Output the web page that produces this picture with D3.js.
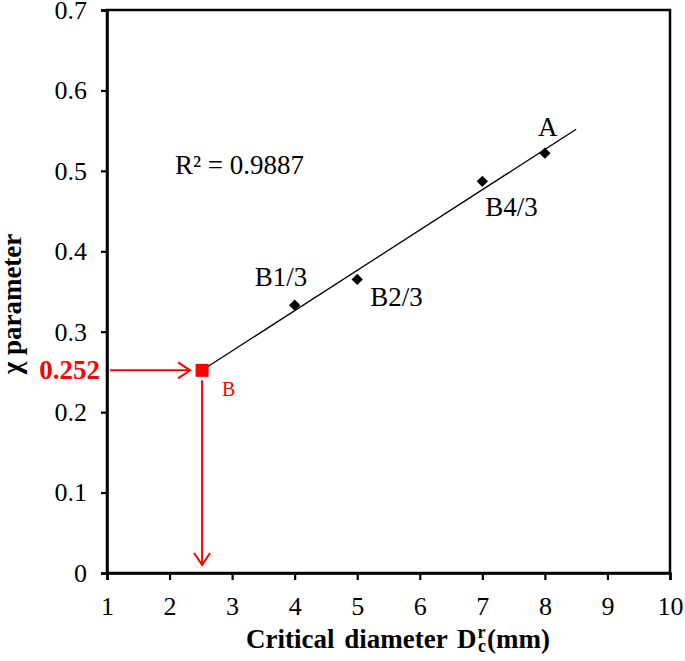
<!DOCTYPE html>
<html><head><meta charset="utf-8">
<script src="https://cdn.jsdelivr.net/npm/d3@7"></script>
<style>body{margin:0;background:#fff}svg{display:block}text{font-family:"Liberation Serif","Times New Roman",serif}</style>
</head><body>
<svg id="c" width="685" height="661"></svg>
<script>
const pointLabels = ["B1/3","B2/3","B4/3","A"];
const xValues = [4, 5, 7, 8];
const yValues = [0.333, 0.365, 0.487, 0.522];
const bPoint = {label:"B", x:2.52, y:0.252};
const trendEnd = 8.5;
const xTicks = [1,2,3,4,5,6,7,8,9,10];
const yTicks = [0,0.1,0.2,0.3,0.4,0.5,0.6,0.7];
const r2Text = "R² = 0.9887";

const svg = d3.select("#c");
const L=107, R=670, T=10, B=573;
const x = d3.scaleLinear().domain([1,10]).range([L,R]);
const y = d3.scaleLinear().domain([0,0.7]).range([B,T]);

svg.append("rect").attr("x",L).attr("y",T).attr("width",R-L).attr("height",B-T)
  .attr("fill","none").attr("stroke","#000").attr("stroke-width",2.5);

const xa = svg.append("g").attr("transform",`translate(0,${B})`)
  .call(d3.axisBottom(x).tickValues(xTicks).tickSize(7).tickPadding(17).tickFormat(d3.format("d")));
const ya = svg.append("g").attr("transform",`translate(${L},0)`)
  .call(d3.axisLeft(y).tickValues(yTicks).tickSize(6).tickPadding(14).tickFormat(d=>d===0?"0":d3.format(".1f")(d)));
[xa,ya].forEach(a=>{
  a.select(".domain").attr("stroke-width",2.5);
  a.selectAll(".tick line").attr("stroke-width",2.2);
  a.selectAll(".tick text").attr("font-size",26).attr("font-family","Liberation Serif").attr("fill","#000");
});

// regression line
const mx=d3.mean(xValues), my=d3.mean(yValues);
const slope=d3.sum(xValues.map((v,i)=>(v-mx)*(yValues[i]-my)))/d3.sum(xValues.map(v=>(v-mx)**2));
const icpt=my-slope*mx;
svg.append("line").attr("x1",x(bPoint.x)).attr("y1",y(bPoint.y))
  .attr("x2",x(trendEnd)).attr("y2",y(icpt+slope*trendEnd))
  .attr("stroke","#000").attr("stroke-width",1.3);

svg.selectAll(".pt").data(xValues).enter().append("path")
  .attr("d",d3.symbol(d3.symbolSquare,64))
  .attr("transform",(d,i)=>`translate(${x(d)},${y(yValues[i])}) rotate(45)`)
  .attr("fill","#000");

const off = {"B1/3":[-40,-19],"B2/3":[13,27],"B4/3":[3,35],"A":[-7,-17]};
svg.selectAll(".lbl").data(pointLabels).enter().append("text")
  .attr("x",(d,i)=>x(xValues[i])+off[d][0]).attr("y",(d,i)=>y(yValues[i])+off[d][1])
  .attr("font-size",27).text(d=>d);

svg.append("text").attr("x",175).attr("y",174).attr("font-size",27).text(r2Text);

// red annotation
const red="#ff0000";
const bx=x(bPoint.x), by=y(bPoint.y);
svg.append("line").attr("x1",L+3).attr("y1",by).attr("x2",bx-12).attr("y2",by).attr("stroke",red).attr("stroke-width",2);
svg.append("path").attr("d",`M${bx-24},${by-8}L${bx-12},${by}L${bx-24},${by+8}`).attr("fill","none").attr("stroke",red).attr("stroke-width",2);
svg.append("line").attr("x1",bx).attr("y1",by+10).attr("x2",bx).attr("y2",y(0)-8).attr("stroke",red).attr("stroke-width",2);
svg.append("path").attr("d",`M${bx-8},${y(0)-20}L${bx},${y(0)-8}L${bx+8},${y(0)-20}`).attr("fill","none").attr("stroke",red).attr("stroke-width",2);
svg.append("rect").attr("x",bx-6.5).attr("y",by-6.5).attr("width",13).attr("height",13).attr("fill",red);
svg.append("text").attr("x",bx+20).attr("y",by+26).attr("font-size",20).attr("fill",red).text(bPoint.label);
svg.append("text").attr("x",100).attr("y",by+9).attr("text-anchor","end").attr("font-size",27)
  .attr("font-weight","bold").attr("fill",red).text(d3.format(".3f")(bPoint.y));

// axis titles
const xt = svg.append("text").attr("x",398).attr("y",648).attr("text-anchor","middle")
  .attr("font-size",27).attr("font-weight","bold").attr("word-spacing",3);
xt.append("tspan").text("Critical diameter D");
xt.append("tspan").attr("font-size",18).attr("dy",-10).attr("dx",1).text("r");
xt.append("tspan").attr("font-size",18).attr("dy",14).attr("dx",-7).text("c");
xt.append("tspan").attr("dy",-4).attr("dx",1).text("(mm)");

svg.append("text").attr("transform","translate(21,304) rotate(-90)").attr("text-anchor","middle")
  .attr("font-size",27).attr("font-weight","bold").text("χ parameter");
</script>
</body></html>
